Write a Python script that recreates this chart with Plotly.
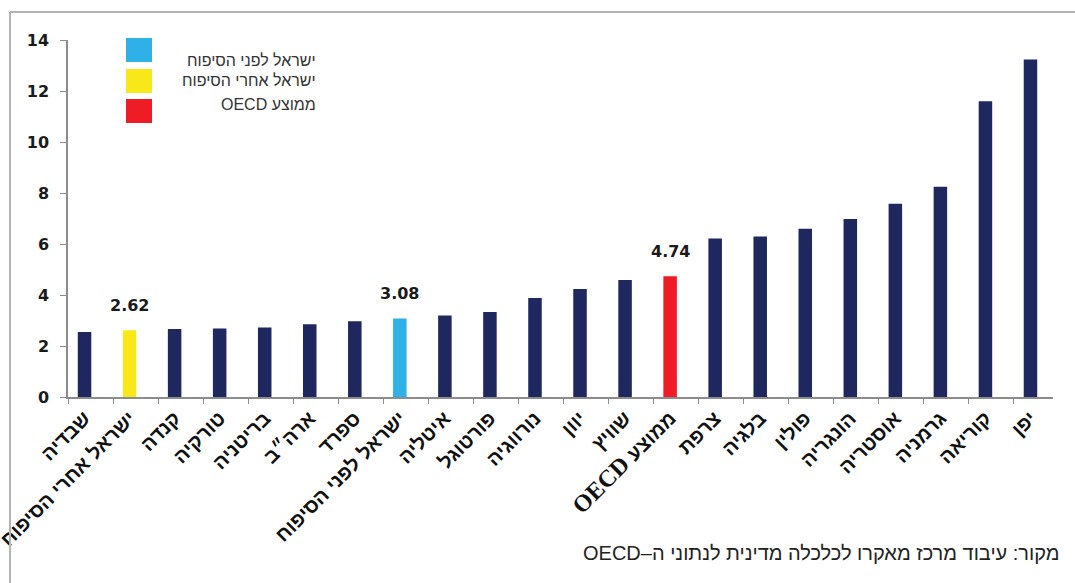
import plotly.graph_objects as go

# Data: rate by country, sorted ascending
countries = [
    "שבדיה", "ישראל אחרי הסיפוח", "קנדה", "טורקיה", "בריטניה", "ארה״ב", "ספרד",
    "ישראל לפני הסיפוח", "איטליה", "פורטוגל", "נורווגיה", "יוון", "שוויץ",
    "ממוצע OECD", "צרפת", "בלגיה", "פולין", "הונגריה", "אוסטריה", "גרמניה",
    "קוריאה", "יפן",
]
values = [
    2.55, 2.62, 2.67, 2.69, 2.73, 2.85, 2.97,
    3.08, 3.20, 3.33, 3.88, 4.24, 4.59,
    4.74, 6.22, 6.29, 6.60, 6.98, 7.58, 8.25,
    11.60, 13.24,
]
y_ticks = [0, 2, 4, 6, 8, 10, 12, 14]

# Highlighted categories (legend entries) and their colours
highlight_names = ["ישראל לפני הסיפוח", "ישראל אחרי הסיפוח", "ממוצע OECD"]
highlight_colors = ["#2fb0e6", "#f9e819", "#ee1c25"]
base_color = "#1f275f"

RLE, PDF = "\u202b", "\u202c"


def rtl(s):
    return RLE + s + PDF


def tick_label(s):
    if "OECD" in s:
        return rtl(s.replace(
            "OECD",
            '<span style="font-family:Liberation Serif;font-size:24px">OECD</span>'))
    return rtl(s)


color_map = dict(zip(highlight_names, highlight_colors))
bar_colors = [color_map.get(c, base_color) for c in countries]
idx = list(range(len(countries)))

W, H = 1075, 583
ML, MR, MT, MB = 68, 22, 40, 186
PW, PH = W - ML - MR, H - MT - MB


def px(x):
    return (x - ML) / PW


def py(y):
    return (H - MB - y) / PH


fig = go.Figure()
fig.add_trace(go.Bar(
    x=idx, y=values, width=0.3,
    marker=dict(color=bar_colors, line=dict(width=0)),
    showlegend=False, hoverinfo="skip",
))

# Value labels above the highlighted bars
annotations = []
for name in highlight_names:
    i = countries.index(name)
    annotations.append(dict(
        x=i, y=values[i], xref="x", yref="y", text=f"{values[i]:.2f}",
        showarrow=False, yanchor="bottom", yshift=13,
        font=dict(family="DejaVu Sans", size=16, color="#1a1a1a", weight="bold"),
    ))

# Legend: coloured squares with right-aligned labels
legend_sq_y = [38, 69, 99]
legend_txt_y = [60, 80, 104]
shapes = []
for k, (name, col) in enumerate(zip(highlight_names, highlight_colors)):
    shapes.append(dict(
        type="rect", xref="paper", yref="paper",
        x0=px(126), x1=px(152), y0=py(legend_sq_y[k]), y1=py(legend_sq_y[k] + 24),
        fillcolor=col, line=dict(width=0),
    ))
    annotations.append(dict(
        x=px(318), y=py(legend_txt_y[k]), xref="paper", yref="paper",
        text=rtl(name), showarrow=False, xanchor="right", yanchor="middle",
        font=dict(family="Liberation Sans", size=16, color="#333333"),
    ))

# Outer frame (top and left edges)
frame = dict(color="#b3b3b3", width=2)
shapes.append(dict(type="line", xref="paper", yref="paper",
                   x0=px(10), x1=px(W + 10), y0=py(12), y1=py(12), line=frame))
shapes.append(dict(type="line", xref="paper", yref="paper",
                   x0=px(10), x1=px(10), y0=py(12), y1=py(H + 10), line=frame))

# Source note
annotations.append(dict(
    x=px(1062), y=py(553), xref="paper", yref="paper",
    text=rtl("מקור: עיבוד מרכז מאקרו לכלכלה מדינית לנתוני ה–OECD"),
    showarrow=False, xanchor="right", yanchor="middle",
    font=dict(family="Liberation Sans", size=20, color="#222222"),
))

fig.update_layout(
    width=W, height=H,
    margin=dict(l=ML, r=MR, t=MT, b=MB, autoexpand=False),
    paper_bgcolor="white", plot_bgcolor="white",
    shapes=shapes, annotations=annotations,
    xaxis=dict(
        range=[-0.367, len(countries) - 0.5],
        tickmode="array", tickvals=idx,
        ticktext=[tick_label(c) for c in countries],
        tickangle=-45, ticks="", automargin=False,
        ticklabeloverflow="allow",
        tickfont=dict(family="Liberation Sans", size=20, color="#111111", weight="bold"),
        showline=True, linecolor="#8c8c8c", linewidth=1.5,
        showgrid=False, zeroline=False,
        minor=dict(ticks="outside", tick0=-0.367, dtick=1, ticklen=5,
                   tickcolor="#8c8c8c", tickwidth=1.2, showgrid=False),
    ),
    yaxis=dict(
        range=[0, 14], tickmode="array", tickvals=y_ticks,
        ticks="outside", ticklen=6, tickcolor="#8c8c8c", tickwidth=1.2,
        ticklabelstandoff=8, automargin=False,
        tickfont=dict(family="DejaVu Sans", size=16, color="#1a1a1a", weight="bold"),
        showline=True, linecolor="#8c8c8c", linewidth=1.5,
        showgrid=False, zeroline=False,
    ),
)

fig.write_html("out.html")
